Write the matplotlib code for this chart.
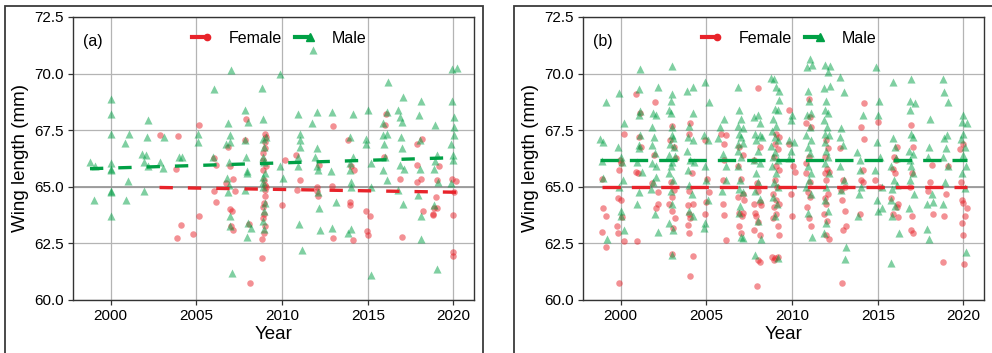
import numpy as np
import matplotlib
matplotlib.use('Agg')
import matplotlib.pyplot as plt
from matplotlib.lines import Line2D
from matplotlib.legend_handler import HandlerLine2D
from matplotlib.patches import Rectangle

plt.rcParams['font.family'] = ['Liberation Sans', 'DejaVu Sans']

RED = '#e8232a'
GREEN = '#00a045'

# panel (a): (year, wing length mm)
A_MALE = [
    (1998.79, 66.1), (1999.08, 65.9), (1999.04, 64.4),
    (2000.0, 68.9), (2000.0, 68.2), (2000.0, 67.35), (2000.0, 66.05), (2000.0, 65.75), (2000.04, 65.8),
    (2000.0, 64.8), (2000.04, 64.75), (2000.0, 63.7),
    (2000.82, 66.95), (2001.09, 67.35), (2001.03, 65.25), (2000.9, 64.4),
    (2001.83, 66.45), (2002.16, 67.95), (2002.14, 67.2), (2002.07, 66.4), (2001.95, 66.1), (2001.95, 64.8),
    (2002.18, 65.9),
    (2002.85, 66.1), (2003.1, 67.2), (2003.04, 65.85),
    (2003.98, 66.3), (2004.17, 66.3),
    (2005.09, 67.35), (2005.07, 67.0),
    (2006.0, 69.3), (2005.96, 66.3),
    (2007.0, 70.15), (2006.82, 67.8), (2006.94, 67.3), (2006.94, 67.0), (2006.74, 66.9), (2006.88, 66.1),
    (2006.8, 65.4), (2006.9, 65.1), (2006.82, 64.75), (2006.94, 63.7), (2006.94, 63.25), (2007.08, 61.2),
    (2007.86, 68.4), (2007.99, 67.85), (2007.86, 67.05), (2007.91, 66.3), (2007.97, 65.7), (2007.95, 65.6),
    (2007.84, 64.85), (2007.99, 63.4), (2007.95, 62.8), (2008.19, 63.2),
    (2008.83, 69.35), (2008.87, 68.0), (2008.89, 67.1), (2008.95, 66.75), (2008.89, 66.3), (2008.95, 66.1),
    (2008.89, 65.45), (2008.89, 65.2), (2008.89, 65.0), (2008.99, 64.3), (2008.95, 63.95), (2008.89, 63.5),
    (2008.95, 63.15), (2009.08, 67.2), (2008.99, 65.6),
    (2009.86, 70.0), (2009.86, 65.9), (2010.04, 65.4),
    (2010.94, 68.2), (2011.07, 67.35), (2011.07, 67.05), (2011.07, 66.75), (2010.94, 66.3), (2010.94, 65.9),
    (2011.01, 63.35), (2011.19, 62.2),
    (2011.81, 71.05), (2012.01, 68.3), (2011.75, 67.8), (2012.05, 66.7), (2011.91, 66.3), (2012.01, 65.9),
    (2012.1, 65.75), (2012.1, 64.75), (2012.16, 64.05), (2012.2, 63.1),
    (2012.92, 68.3), (2012.83, 65.7), (2012.89, 63.2), (2013.14, 64.35),
    (2013.94, 67.2), (2014.11, 68.2), (2013.94, 66.05), (2013.94, 65.75), (2014.02, 65.2), (2014.05, 65.0),
    (2014.02, 63.15), (2013.86, 62.95), (2014.11, 66.3),
    (2014.99, 68.4), (2014.87, 67.1), (2014.87, 66.9), (2015.19, 66.05), (2015.19, 65.0), (2015.19, 61.1),
    (2015.89, 67.8), (2015.89, 67.3), (2015.96, 66.9), (2016.1, 67.35), (2016.16, 69.65), (2016.1, 68.3),
    (2015.91, 65.75), (2016.1, 65.3), (2016.0, 66.3),
    (2016.78, 68.4), (2016.88, 68.1), (2017.08, 68.95), (2016.98, 67.85), (2016.94, 67.2), (2017.02, 66.7),
    (2016.88, 65.95), (2017.13, 65.8), (2017.08, 64.25), (2016.78, 64.85),
    (2018.01, 68.15), (2018.09, 68.8), (2018.05, 67.05), (2018.05, 65.8), (2017.95, 64.65), (2018.11, 63.7),
    (2018.09, 62.7),
    (2018.95, 67.75), (2019.03, 66.4), (2018.87, 65.8), (2018.93, 66.15), (2019.12, 65.2), (2019.03, 61.35),
    (2018.89, 64.2),
    (2019.9, 70.2), (2020.19, 70.25), (2019.9, 68.8), (2020.04, 68.1), (2020.04, 67.65), (2020.06, 67.3),
    (2019.86, 66.9), (2020.0, 66.4), (2019.96, 66.2), (2019.86, 65.15),
]

A_FEMALE = [
    (2002.85, 67.3),
    (2003.92, 67.25), (2003.82, 65.8), (2004.11, 63.3), (2003.88, 62.75),
    (2005.15, 67.75), (2004.8, 62.9), (2005.15, 63.7),
    (2006.02, 66.25), (2006.16, 65.95), (2006.02, 64.8), (2006.16, 64.35),
    (2006.84, 66.75), (2006.94, 65.9), (2007.13, 65.35), (2007.08, 63.95), (2006.94, 64.0), (2007.04, 63.25),
    (2007.13, 63.1), (2006.74, 65.15), (2007.23, 64.8),
    (2007.91, 68.0), (2007.82, 67.05), (2008.07, 63.35), (2008.15, 60.75),
    (2008.99, 67.35), (2009.08, 67.2), (2008.99, 67.0), (2009.03, 66.7), (2008.89, 66.5), (2008.89, 66.2),
    (2008.89, 65.75), (2008.93, 65.3), (2008.99, 65.1), (2008.99, 64.85), (2008.99, 64.6), (2008.93, 64.3),
    (2008.89, 64.1), (2008.93, 63.8), (2008.89, 63.6), (2008.99, 63.25), (2008.95, 62.95), (2008.85, 62.7),
    (2008.85, 61.85), (2009.08, 65.0), (2009.08, 65.9),
    (2010.0, 64.2), (2010.16, 66.2),
    (2010.84, 66.4), (2011.03, 65.3), (2010.9, 64.85),
    (2012.01, 65.0), (2012.1, 64.6), (2012.01, 64.8), (2012.16, 65.95),
    (2012.98, 67.7), (2012.89, 65.05), (2012.98, 62.75),
    (2013.82, 67.05), (2013.96, 64.35), (2013.96, 64.2), (2014.15, 62.65), (2014.05, 65.9), (2014.19, 65.75),
    (2014.89, 63.95), (2015.13, 63.7), (2014.93, 63.05), (2014.99, 62.85),
    (2016.06, 68.2), (2016.0, 67.75), (2015.96, 66.3),
    (2016.88, 65.35), (2017.02, 62.8),
    (2017.86, 66.9), (2018.15, 67.1), (2017.86, 65.95), (2017.9, 65.2), (2018.09, 65.35), (2018.25, 63.95),
    (2018.89, 64.05), (2018.83, 63.8), (2019.06, 64.05), (2018.99, 64.55), (2019.06, 65.3), (2019.17, 65.9),
    (2018.83, 63.75),
    (2019.9, 65.35), (2020.16, 65.25), (2020.06, 64.75), (2020.0, 63.75), (2019.96, 62.1), (2020.0, 61.95),
]

# panel (b)
B_MALE = [
    (1998.82, 67.1), (1998.96, 67.0), (1999.12, 68.75), (1998.88, 66.15), (1998.96, 65.4), (1999.18, 62.7),
    (1999.9, 69.15), (1999.84, 66.75), (2000.0, 66.3), (2000.1, 66.1), (1999.9, 65.0), (2000.04, 63.95),
    (2000.04, 63.7), (2000.2, 63.1), (2000.2, 67.8), (2000.16, 65.3),
    (2001.12, 70.2), (2001.08, 69.3), (2001.12, 68.35), (2001.04, 68.15), (2001.12, 67.3), (2001.08, 66.85),
    (2001.04, 66.7), (2000.98, 66.1), (2001.08, 64.75), (2000.98, 64.25), (2001.27, 65.65),
    (2001.9, 68.25), (2001.85, 67.65), (2002.05, 68.15), (2002.18, 69.4), (2001.95, 67.2), (2001.85, 66.85),
    (2002.0, 66.5), (2001.85, 66.05), (2002.05, 65.9), (2001.9, 65.2), (2002.08, 65.45), (2002.0, 63.8),
    (2002.15, 63.0), (2001.75, 64.9),
    (2003.02, 70.35), (2003.02, 69.1), (2002.96, 68.8), (2002.83, 68.4), (2002.96, 68.25), (2003.02, 67.65),
    (2003.02, 67.3), (2003.08, 67.15), (2002.86, 66.9), (2003.12, 66.75), (2002.83, 66.4), (2002.98, 66.1),
    (2002.92, 65.9), (2002.83, 65.6), (2003.08, 65.3), (2002.92, 64.8), (2003.02, 64.25), (2002.83, 63.4),
    (2003.08, 63.1), (2002.98, 62.0), (2003.16, 66.35),
    (2003.86, 69.25), (2004.2, 69.4), (2004.0, 67.7), (2004.2, 68.25), (2003.94, 67.2), (2004.2, 67.05),
    (2003.86, 66.6), (2004.05, 66.2), (2004.25, 66.1), (2003.9, 65.75), (2004.0, 65.1), (2004.15, 64.7),
    (2003.96, 63.95), (2004.2, 63.7),
    (2004.92, 69.65), (2005.18, 68.75), (2004.88, 67.3), (2005.08, 67.05), (2004.92, 65.9), (2004.98, 65.3),
    (2005.08, 64.4), (2004.94, 63.4), (2004.84, 63.2),
    (2005.66, 67.15), (2005.8, 67.65), (2006.05, 68.0), (2005.95, 66.45), (2006.15, 65.9), (2006.15, 65.3),
    (2005.9, 64.8),
    (2006.83, 69.4), (2006.93, 68.4), (2007.02, 68.0), (2006.87, 67.7), (2007.12, 67.6), (2006.93, 67.35),
    (2007.02, 67.2), (2006.83, 66.9), (2007.12, 66.95), (2006.87, 66.6), (2007.02, 66.3), (2006.83, 65.9),
    (2006.98, 65.3), (2006.88, 64.9), (2007.12, 64.75), (2006.98, 64.15), (2006.93, 63.85), (2007.02, 62.8),
    (2007.12, 62.75),
    (2007.8, 68.1), (2008.0, 68.15), (2008.1, 67.8), (2007.84, 67.35), (2008.1, 67.3), (2007.9, 67.05),
    (2008.23, 67.2), (2008.0, 66.6), (2007.8, 66.2), (2008.1, 66.05), (2007.9, 65.6), (2008.04, 65.2),
    (2007.84, 64.8), (2008.1, 64.45), (2008.04, 63.5), (2008.16, 62.7), (2007.86, 62.0),
    (2008.78, 69.8), (2008.94, 69.75), (2009.08, 69.4), (2009.23, 68.85), (2008.98, 68.45), (2009.17, 68.4),
    (2008.88, 68.0), (2009.08, 67.7), (2008.84, 67.45), (2008.98, 67.2), (2009.17, 67.05), (2008.78, 66.8),
    (2009.03, 66.55), (2008.88, 66.3), (2009.17, 66.2), (2008.84, 65.9), (2009.08, 65.6), (2008.92, 65.2),
    (2009.17, 65.0), (2008.88, 64.55), (2009.13, 64.25), (2009.03, 63.7), (2009.17, 61.85), (2009.23, 69.25),
    (2010.0, 68.15), (2009.95, 67.95), (2009.85, 67.05), (2010.09, 67.0), (2009.95, 66.6), (2009.81, 66.25),
    (2010.93, 69.25), (2010.97, 68.8), (2010.87, 68.15), (2011.12, 68.25), (2011.02, 67.65), (2010.83, 67.3),
    (2011.12, 67.05), (2010.93, 66.75), (2011.02, 66.5), (2010.93, 65.9), (2011.12, 65.6), (2010.97, 65.3),
    (2010.83, 65.0), (2011.12, 64.7), (2010.93, 63.85), (2011.18, 62.8), (2011.02, 70.65), (2011.18, 70.4),
    (2010.87, 70.3),
    (2011.9, 70.4), (2012.2, 70.35), (2012.1, 70.05), (2011.86, 69.35), (2012.2, 69.45), (2012.0, 68.8),
    (2011.9, 68.4), (2012.1, 68.25), (2011.86, 67.95), (2012.06, 67.65), (2011.9, 67.35), (2012.14, 67.3),
    (2011.9, 67.0), (2012.0, 66.6), (2012.1, 66.3), (2011.9, 66.05), (2012.14, 65.6), (2012.0, 65.0),
    (2011.9, 64.4), (2012.1, 63.95), (2012.0, 63.4), (2011.86, 62.95),
    (2012.82, 69.85), (2013.03, 69.2), (2012.88, 67.6), (2012.78, 67.2), (2012.98, 66.85), (2012.78, 65.9),
    (2013.03, 65.3), (2012.88, 64.85), (2013.12, 62.35), (2013.08, 61.8),
    (2013.8, 66.55), (2013.99, 66.2), (2013.95, 65.75), (2014.11, 68.15), (2013.91, 64.7), (2013.85, 63.7),
    (2014.05, 65.0),
    (2014.87, 70.3), (2015.08, 68.8), (2015.02, 68.15), (2014.93, 67.0), (2015.12, 66.3), (2014.83, 65.75),
    (2015.22, 65.0), (2014.93, 64.4), (2014.99, 63.95), (2015.22, 64.05),
    (2015.9, 69.65), (2015.9, 67.15), (2016.0, 66.75), (2016.04, 66.25), (2015.8, 65.9), (2015.94, 65.3),
    (2015.86, 64.9), (2016.1, 65.1), (2015.8, 64.4), (2016.0, 64.15), (2015.86, 63.7), (2016.25, 62.95),
    (2015.76, 61.65),
    (2016.94, 69.75), (2016.88, 68.8), (2017.17, 68.7), (2016.88, 68.4), (2016.94, 67.35), (2017.04, 67.2),
    (2016.82, 66.6), (2017.08, 66.45), (2016.88, 66.2), (2016.94, 65.9), (2017.08, 65.6), (2016.88, 65.3),
    (2017.14, 64.7), (2016.82, 64.05),
    (2018.05, 68.0), (2018.0, 66.75), (2017.95, 66.3), (2018.15, 64.7), (2018.2, 64.35), (2017.85, 64.25),
    (2017.9, 63.15), (2017.98, 62.7),
    (2018.83, 69.75), (2018.89, 69.2), (2019.12, 68.75), (2019.02, 67.3), (2018.89, 67.15), (2018.97, 66.7),
    (2018.83, 66.3), (2019.08, 65.9), (2018.93, 65.2), (2018.83, 64.25),
    (2019.96, 68.15), (2019.9, 67.85), (2020.2, 67.8), (2020.0, 67.35), (2019.84, 67.1), (2020.1, 66.75),
    (2020.0, 66.4), (2020.15, 65.9), (2019.9, 65.6), (2020.1, 64.95), (2020.15, 62.1),
]

B_FEMALE = [
    (1998.89, 65.35), (1998.96, 64.05), (1999.12, 63.7), (1998.89, 63.0), (1999.16, 62.35),
    (1999.96, 66.2), (1999.9, 65.75), (2000.0, 66.05), (1999.84, 64.5), (2000.0, 64.4), (1999.8, 63.25),
    (1999.86, 62.95), (1999.9, 60.75), (2000.2, 67.35), (2000.2, 62.6), (2000.1, 63.65),
    (2000.92, 69.1), (2001.13, 68.25), (2000.88, 65.65), (2001.03, 65.6), (2001.07, 67.2), (2000.94, 62.6),
    (2001.17, 66.75),
    (2002.0, 68.75), (2001.85, 65.15), (2002.15, 64.75), (2002.18, 64.25), (2002.05, 64.05), (2001.95, 66.4),
    (2003.02, 67.7), (2003.12, 66.75), (2003.22, 66.25), (2002.96, 65.2), (2003.12, 64.85), (2002.98, 64.55),
    (2002.83, 64.25), (2003.02, 63.95), (2003.16, 63.6), (2003.08, 63.2), (2003.02, 62.05), (2002.88, 67.05),
    (2004.06, 67.8), (2003.96, 67.35), (2004.14, 65.6), (2004.0, 64.8), (2003.9, 64.2), (2004.2, 64.25),
    (2003.96, 63.8), (2004.06, 63.6), (2003.9, 63.3), (2004.0, 62.95), (2004.2, 61.95), (2004.06, 61.05),
    (2004.92, 67.05), (2005.02, 65.35), (2005.13, 64.75), (2004.98, 64.35), (2004.94, 63.8),
    (2005.85, 67.35), (2006.15, 67.3), (2006.05, 66.9), (2006.0, 66.2), (2005.95, 65.3), (2005.95, 64.25),
    (2006.05, 63.75), (2006.15, 62.65),
    (2006.93, 66.75), (2007.12, 66.4), (2006.87, 65.9), (2007.02, 65.35), (2007.12, 64.7), (2006.83, 64.55),
    (2007.18, 64.4), (2006.93, 63.85), (2007.06, 63.7), (2006.93, 63.25), (2007.02, 62.95), (2007.12, 63.85),
    (2008.04, 69.35), (2007.8, 66.2), (2008.1, 66.75), (2007.96, 65.15), (2008.04, 64.8), (2007.8, 64.25),
    (2008.1, 64.35), (2007.84, 63.85), (2007.9, 63.7), (2008.0, 63.45), (2007.8, 63.1), (2008.1, 62.85),
    (2008.0, 61.75), (2008.1, 61.7), (2007.96, 60.6), (2008.16, 64.2),
    (2009.08, 67.35), (2009.23, 67.2), (2008.98, 66.9), (2009.17, 66.65), (2008.92, 66.3), (2009.08, 65.9),
    (2009.23, 65.75), (2008.98, 65.3), (2009.13, 65.0), (2008.88, 64.7), (2009.08, 64.4), (2009.23, 64.25),
    (2008.94, 64.1), (2009.08, 63.8), (2008.88, 63.6), (2009.17, 63.25), (2009.23, 62.85), (2008.84, 61.9),
    (2009.03, 61.85), (2009.17, 61.9), (2008.92, 61.75),
    (2009.85, 68.4), (2009.95, 64.7), (2009.99, 63.7), (2010.05, 65.9), (2010.15, 65.65), (2009.85, 66.9),
    (2010.97, 68.9), (2011.02, 68.1), (2010.83, 67.8), (2011.12, 67.65), (2010.97, 66.3), (2010.79, 65.6),
    (2011.07, 65.2), (2010.93, 64.75), (2011.02, 64.55), (2010.87, 64.1), (2010.97, 63.6), (2011.12, 63.25),
    (2010.83, 66.05),
    (2012.0, 67.05), (2012.1, 66.7), (2011.9, 66.3), (2012.04, 65.8), (2012.14, 65.65), (2011.9, 65.6),
    (2012.0, 65.3), (2012.1, 64.7), (2011.9, 64.5), (2012.0, 64.25), (2011.86, 63.8), (2012.04, 63.5),
    (2011.96, 62.85), (2012.14, 62.7),
    (2012.82, 66.7), (2012.98, 65.3), (2013.07, 65.0), (2012.88, 64.85), (2012.94, 64.4), (2013.07, 63.95),
    (2012.98, 63.1), (2013.13, 63.25), (2012.94, 60.75),
    (2014.19, 68.7), (2014.05, 67.65), (2014.19, 67.1), (2014.01, 65.3), (2014.15, 65.2), (2013.95, 63.8),
    (2014.11, 65.75),
    (2014.99, 67.85), (2014.83, 65.3), (2015.12, 65.0),
    (2015.94, 66.3), (2016.1, 66.75), (2016.06, 66.2), (2015.9, 65.8), (2016.0, 65.6), (2016.16, 64.25),
    (2016.1, 64.1), (2015.9, 63.8), (2016.2, 63.65), (2015.8, 64.5),
    (2016.94, 67.75), (2017.04, 66.75), (2016.98, 65.6), (2016.88, 65.0), (2017.02, 63.7), (2016.94, 63.1),
    (2017.04, 62.95),
    (2018.15, 65.95), (2018.05, 65.2), (2017.95, 64.8), (2018.2, 63.8),
    (2018.83, 61.7), (2018.98, 64.7), (2018.89, 63.7), (2019.08, 65.9),
    (2019.8, 66.65), (2019.96, 66.9), (2019.86, 65.2), (2019.9, 64.4), (2020.0, 64.3), (2019.9, 63.4),
    (2020.2, 64.05), (2020.1, 63.7), (2020.0, 62.85), (2020.06, 61.6),
]

# fitted trend values at the first and last year of each series
A_MALE_FIT = [65.80, 66.29]
A_FEMALE_FIT = [64.97, 64.76]
B_MALE_FIT = [66.2, 66.2]
B_FEMALE_FIT = [65.0, 65.0]

PANELS = [
    ('(a)', A_FEMALE, A_MALE, A_FEMALE_FIT, A_MALE_FIT, (4.0, 4.5)),
    ('(b)', B_FEMALE, B_MALE, B_FEMALE_FIT, B_MALE_FIT, (5.5, 3.3)),
]


class EndMarkerHandler(HandlerLine2D):
    """Legend handle: short thick line with the marker at its right end."""
    def create_artists(self, legend, orig_handle, xdescent, ydescent, width, height, fontsize, trans):
        y = (height - ydescent) / 2
        line = Line2D([-xdescent, -xdescent + width], [y, y], markevery=[1])
        self.update_prop(line, orig_handle, legend)
        line.set_transform(trans)
        return [line]


fig = plt.figure(figsize=(9.92, 3.53), dpi=100)
lefts = [73 / 992, 583 / 992]
width = 401 / 992
bottom = 53 / 353
height = 283 / 353

# outer frames of the two sub-figures
fig.patches.append(Rectangle((5 / 992, -0.1), 478 / 992, 1.1 - 6 / 353, transform=fig.transFigure,
                             fill=False, edgecolor='#3a3a3a', linewidth=1.3))
fig.patches.append(Rectangle((514 / 992, -0.1), 0.6, 1.1 - 6 / 353, transform=fig.transFigure,
                             fill=False, edgecolor='#3a3a3a', linewidth=1.3))

for left, (tag, fem, male, ffit, mfit, dash) in zip(lefts, PANELS):
    ax = fig.add_axes([left, bottom, width, height])
    fem = np.array(fem)
    male = np.array(male)
    ax.scatter(fem[:, 0], fem[:, 1], s=22, marker='o', color=RED, alpha=0.5, linewidths=0, zorder=3)
    ax.scatter(male[:, 0], male[:, 1], s=34, marker='^', color=GREEN, alpha=0.5, linewidths=0, zorder=3)
    ax.plot([fem[:, 0].min(), fem[:, 0].max()], ffit, color=RED, lw=2.4, dashes=dash, zorder=4)
    ax.plot([male[:, 0].min(), male[:, 0].max()], mfit, color=GREEN, lw=2.4, dashes=dash, zorder=4)

    ax.set_xlim(1997.8, 2021.2)
    ax.set_ylim(60, 72.5)
    ax.set_xticks([2000, 2005, 2010, 2015, 2020])
    ax.set_yticks(np.arange(60, 72.6, 2.5))
    ax.yaxis.set_major_formatter(matplotlib.ticker.FormatStrFormatter('%.1f'))
    ax.grid(True, color='#b4b4b4', lw=0.9, zorder=0)
    ax.axhline(65, color='#9a9a9a', lw=1.3, zorder=1)
    ax.set_axisbelow(True)
    for sp in ax.spines.values():
        sp.set_color('#333333')
        sp.set_linewidth(1.0)
    ax.tick_params(direction='out', length=3.5, width=0.9, color='#333333', labelsize=11, pad=3)
    ax.set_xlabel('Year', fontsize=13.5, labelpad=2)
    ax.set_ylabel('Wing length (mm)', fontsize=13.5, labelpad=4)
    ax.text(0.025, 0.915, tag, transform=ax.transAxes, fontsize=11.5, va='center', ha='left')

    handles = [Line2D([], [], color=RED, lw=3, marker='o', markersize=4.5),
               Line2D([], [], color=GREEN, lw=3, marker='^', markersize=5.5)]
    ax.legend(handles, ['Female', 'Male'], loc='center', bbox_to_anchor=(0.515, 0.925), ncol=2,
              frameon=False, fontsize=11.5, handlelength=0.9, handletextpad=1.4, columnspacing=0.8,
              handler_map={Line2D: EndMarkerHandler()})

fig.savefig('out.png', dpi=100)
